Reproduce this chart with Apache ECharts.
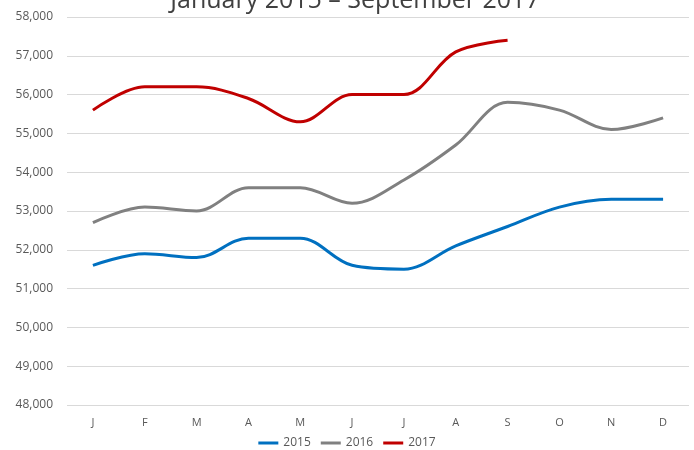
<!DOCTYPE html>
<html>
<head>
<meta charset="utf-8">
<script src="https://cdn.jsdelivr.net/npm/echarts@6/dist/echarts.min.js"></script>
<style>
html, body { margin: 0; padding: 0; background: #fff; }
#container { width: 694px; height: 450px; }
</style>
</head>
<body>
<div id="container"></div>
<script>
var months = ['J', 'F', 'M', 'A', 'M', 'J', 'J', 'A', 'S', 'O', 'N', 'D'];
var data2015 = [51600, 51900, 51800, 52300, 52300, 51600, 51500, 52100, 52600, 53100, 53300, 53300];
var data2016 = [52700, 53100, 53000, 53600, 53600, 53200, 53800, 54700, 55800, 55600, 55100, 55400];
var data2017 = [55600, 56200, 56200, 55900, 55300, 56000, 56000, 57100, 57400];
var legenddata = ['2015', '2016', '2017'];

var dom = document.getElementById("container");
var myChart = echarts.init(dom);

var lineSeries = function (name, data, color) {
    return {
        name: name,
        type: 'line',
        smooth: 0.35,
        symbol: 'none',
        data: data,
        lineStyle: { width: 3, color: color },
        itemStyle: { color: color }
    };
};

var option = {
    animation: false,
    textStyle: { fontFamily: 'Open Sans, sans-serif' },
    title: {
        text: 'January 2015 \u2013 September 2017',
        left: 350,
        textAlign: 'center',
        top: -17,
        textStyle: { fontSize: 25, fontWeight: 'normal', color: '#404040', fontFamily: 'Open Sans, sans-serif' }
    },
    legend: {
        data: legenddata,
        bottom: -4,
        left: 'center',
        itemWidth: 20,
        itemHeight: 3,
        itemGap: 10,
        icon: 'rect',
        textStyle: { color: '#595959', fontSize: 12 }
    },
    grid: { left: 67, right: 5, top: 17, bottom: 45 },
    xAxis: {
        type: 'category',
        data: months,
        boundaryGap: true,
        axisLine: { show: false },
        axisTick: { show: false },
        axisLabel: { color: '#595959', fontSize: 11, margin: 12 }
    },
    yAxis: {
        type: 'value',
        min: 48000,
        max: 58000,
        interval: 1000,
        axisLine: { show: false },
        axisTick: { show: false },
        axisLabel: {
            color: '#595959',
            fontSize: 12,
            margin: 14,
            formatter: function (v) { return v.toLocaleString('en-US'); }
        },
        splitLine: { lineStyle: { color: '#d9d9d9', width: 1 } }
    },
    series: [
        lineSeries('2015', data2015, '#0070C0'),
        lineSeries('2016', data2016, '#808080'),
        lineSeries('2017', data2017, '#C00000')
    ]
};

myChart.setOption(option);
</script>
</body>
</html>
